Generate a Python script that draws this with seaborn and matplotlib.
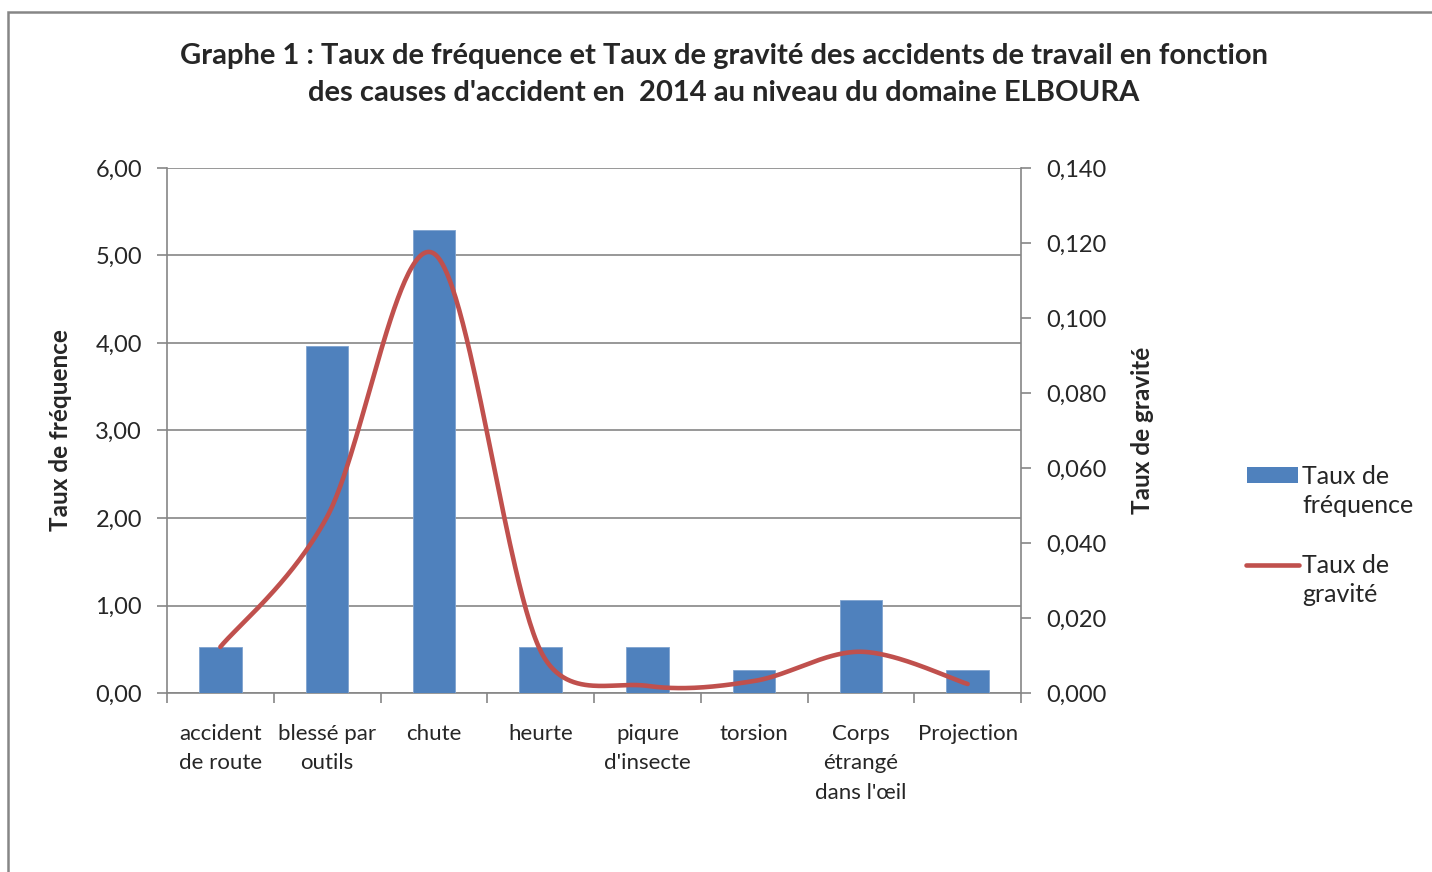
import numpy as np
import pandas as pd
import matplotlib
matplotlib.use('Agg')
import matplotlib.pyplot as plt
from matplotlib.patches import Rectangle
from matplotlib.lines import Line2D
import seaborn as sns

# DONNÉES
causes = ['accident\nde route', 'blessé par\noutils', 'chute', 'heurte',
          'piqure\nd\'insecte', 'torsion', 'Corps\nétrangé\ndans l\'œil', 'Projection']
taux_frequence = [0.53, 3.97, 5.29, 0.53, 0.53, 0.26, 1.06, 0.26]
taux_gravite = [0.0123, 0.047, 0.1172, 0.0112, 0.0019, 0.0032, 0.011, 0.0024]

left_ticks = [0, 1, 2, 3, 4, 5, 6]
right_ticks = [0, 0.02, 0.04, 0.06, 0.08, 0.10, 0.12, 0.14]

BLUE = '#4F81BD'
RED = '#C0504D'
GREY = '#868686'
W, H = 1432, 872

sns.set_theme(style='white')
plt.rcParams['font.family'] = ['Lato', 'DejaVu Sans']

df = pd.DataFrame({'cause': causes, 'freq': taux_frequence, 'grav': taux_gravite})

fig = plt.figure(figsize=(W / 100, H / 100), dpi=100)
ax = fig.add_axes([167 / W, 1 - 693 / H, (1021 - 167) / W, (693 - 168) / H])

# BARRES
sns.barplot(data=df, x='cause', y='freq', color=BLUE, width=0.4, saturation=1,
            edgecolor='#7FA3CF', linewidth=0.6, ax=ax, zorder=3)
ax.set_xlim(-0.5, len(causes) - 0.5)
ax.set_ylim(0, 6)
ax.set_yticks(left_ticks)
ax.set_yticklabels([f'{v:.2f}'.replace('.', ',') for v in left_ticks], fontsize=17)
ax.grid(axis='y', color=GREY, lw=1.2, zorder=0)
ax.set_axisbelow(True)
ax.set_xlabel('')
ax.set_ylabel('Taux de fréquence', fontsize=17.5, fontweight='bold')
ax.yaxis.set_label_coords((60 - 167) / 854, 0.5)
ax.yaxis.label.set_va('center')
ax.tick_params(axis='x', which='major', length=0, pad=22, labelsize=16)
ax.set_xticks(np.arange(-0.5, len(causes)), minor=True)
ax.tick_params(axis='x', which='minor', length=7, width=1.2, color=GREY, direction='out', bottom=True)
ax.tick_params(axis='y', length=7, width=1.2, color=GREY, direction='out', left=True, pad=11)
for lbl in ax.get_xticklabels():
    lbl.set_linespacing(1.6)
    lbl.set_verticalalignment('top')
for s in ['top', 'right']:
    ax.spines[s].set_visible(False)
for s in ['left', 'bottom']:
    ax.spines[s].set_color(GREY)
    ax.spines[s].set_linewidth(1.2)

# AXE SECONDAIRE
ax2 = ax.twinx()
ax2.set_ylim(0, 0.14)
ax2.set_yticks(right_ticks)
ax2.set_yticklabels([f'{v:.3f}'.replace('.', ',') for v in right_ticks], fontsize=17)
ax2.tick_params(axis='y', length=7, width=1.2, color=GREY, direction='out', right=True, pad=11)
ax2.set_ylabel('Taux de gravité', fontsize=17.5, fontweight='bold')
ax2.yaxis.set_label_coords((1143 - 167) / 854, 0.5)
ax2.yaxis.label.set_va('center')
ax2.yaxis.label.set_rotation(90)
ax2.grid(False)
for s in ['top', 'left', 'bottom']:
    ax2.spines[s].set_visible(False)
ax2.spines['right'].set_color(GREY)
ax2.spines['right'].set_linewidth(1.2)

# COURBE LISSÉE (bézier façon Excel, calculé en pixels)
pts = ax2.transData.transform(np.column_stack([np.arange(len(taux_gravite)), taux_gravite]))
n = len(pts)
t = np.linspace(0, 1, 60)[:, None]
curve = []
for i in range(n - 1):
    p0, p1, p2, p3 = pts[max(i - 1, 0)], pts[i], pts[i + 1], pts[min(i + 2, n - 1)]
    d02 = np.linalg.norm(p2 - p0)
    d12 = np.linalg.norm(p2 - p1)
    d13 = np.linalg.norm(p3 - p1)
    f0 = 1 / 6 if d02 / 6 < d12 / 2 else d12 / d02 / 2
    f3 = 1 / 6 if d13 / 6 < d12 / 2 else d12 / d13 / 2
    c1 = p1 + (p2 - p0) * f0
    c2 = p2 + (p1 - p3) * f3
    seg = (1 - t) ** 3 * p1 + 3 * (1 - t) ** 2 * t * c1 + 3 * (1 - t) * t ** 2 * c2 + t ** 3 * p2
    curve.append(seg)
curve = ax2.transData.inverted().transform(np.vstack(curve))
ax2.plot(curve[:, 0], curve[:, 1], color=RED, lw=3.3, solid_capstyle='round', zorder=4)

# TITRE
fig.text(724 / W, 1 - 74.5 / H,
         "Graphe 1 : Taux de fréquence et Taux de gravité des accidents de travail en fonction\n"
         "des causes d'accident en  2014 au niveau du domaine ELBOURA",
         ha='center', va='center', fontsize=21, fontweight='bold', linespacing=1.55)

# LÉGENDE
fig.add_artist(Rectangle((1247 / W, 1 - 483 / H), 51 / W, 16 / H, transform=fig.transFigure,
                         facecolor=BLUE, edgecolor='none'))
fig.add_artist(Line2D([1246 / W, 1299 / W], [1 - 565 / H, 1 - 565 / H], transform=fig.transFigure,
                      color=RED, lw=3.3, solid_capstyle='round'))
fig.text(1302 / W, 1 - 491 / H, 'Taux de\nfréquence', ha='left', va='center',
         fontsize=18, linespacing=1.35)
fig.text(1302 / W, 1 - 580 / H, 'Taux de\ngravité', ha='left', va='center',
         fontsize=18, linespacing=1.35)

# CADRE
fig.add_artist(Rectangle((8 / W, -0.1), 1.2, 1.1 - 12 / H, transform=fig.transFigure,
                         fill=False, edgecolor=GREY, lw=1.8))

plt.savefig('out.png', dpi=100)
